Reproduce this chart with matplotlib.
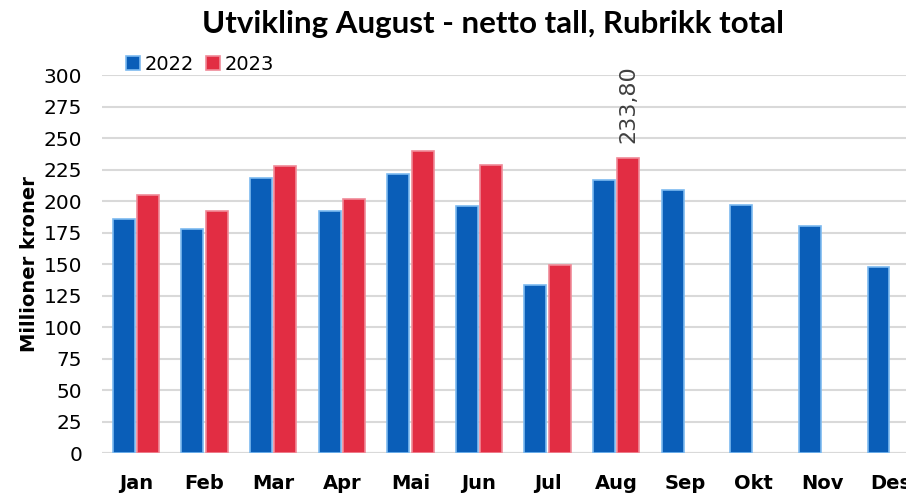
import numpy as np
import matplotlib
matplotlib.use("Agg")
import matplotlib.pyplot as plt

months = ["Jan", "Feb", "Mar", "Apr", "Mai", "Jun", "Jul", "Aug", "Sep", "Okt", "Nov", "Des"]
v2022 = [185.5, 177.5, 218.0, 192.0, 221.5, 196.0, 133.5, 217.0, 208.5, 197.0, 180.5, 147.5]
v2023 = [205.0, 192.0, 228.0, 201.5, 240.0, 228.5, 149.0, 233.8]
yticks = list(range(0, 301, 25))

blue = "#0A5EB8"
blue_edge = "#7DBAF0"
red = "#E22D43"
red_edge = "#F08A98"

fig = plt.figure(figsize=(9.06, 4.94), dpi=100)
# axes run past the right edge like the original (Des is cut off)
ax = fig.add_axes([101.7 / 906, 41 / 494, 823.3 / 906, 378 / 494])

x = np.arange(len(months))
w = 0.32
off = 0.178
ax.bar(x - off, v2022, width=w, color=blue, edgecolor=blue_edge, linewidth=1.2, label="2022", zorder=3)
x23 = np.arange(len(v2023))
ax.bar(x23 + off, v2023, width=w, color=red, edgecolor=red_edge, linewidth=1.2, label="2023", zorder=3)

# data label on the last 2023 bar
ax.text(x23[-1] + off, v2023[-1] + 12, f"{v2023[-1]:.2f}".replace(".", ","),
        rotation=90, ha="center", va="bottom", fontsize=16, color="#404040")

ax.set_xlim(-0.5, len(months) - 0.5)
ax.set_ylim(0, 300)
ax.set_yticks(yticks)
ax.set_xticks(x)
ax.set_xticklabels(months, fontsize=14, fontweight="bold")
ax.tick_params(axis="y", labelsize=14.5, length=0, pad=14)
ax.tick_params(axis="x", length=0, pad=15)
ax.yaxis.grid(True, color="#D9D9D9", linewidth=1.5, zorder=0)
for s in ax.spines.values():
    s.set_visible(False)
ax.axhline(0, color="#D9D9D9", linewidth=1.5, zorder=1)

ax.set_ylabel("Millioner kroner", fontsize=14, fontweight="bold")
ax.yaxis.set_label_coords(-63 / 823.3, 0.5)

fig.text(493 / 906, 1 - 24 / 494, "Utvikling August - netto tall, Rubrikk total",
         ha="center", va="center", fontsize=22.5, fontweight="bold", family="Lato")

leg = ax.legend(loc="upper left", bbox_to_anchor=(17 / 823.3, 1 + 28 / 378), ncol=2,
                frameon=False, fontsize=14, handlelength=0.7, handleheight=0.7,
                handletextpad=0.25, columnspacing=0.6, borderaxespad=0)

fig.savefig("out.png", dpi=100)
